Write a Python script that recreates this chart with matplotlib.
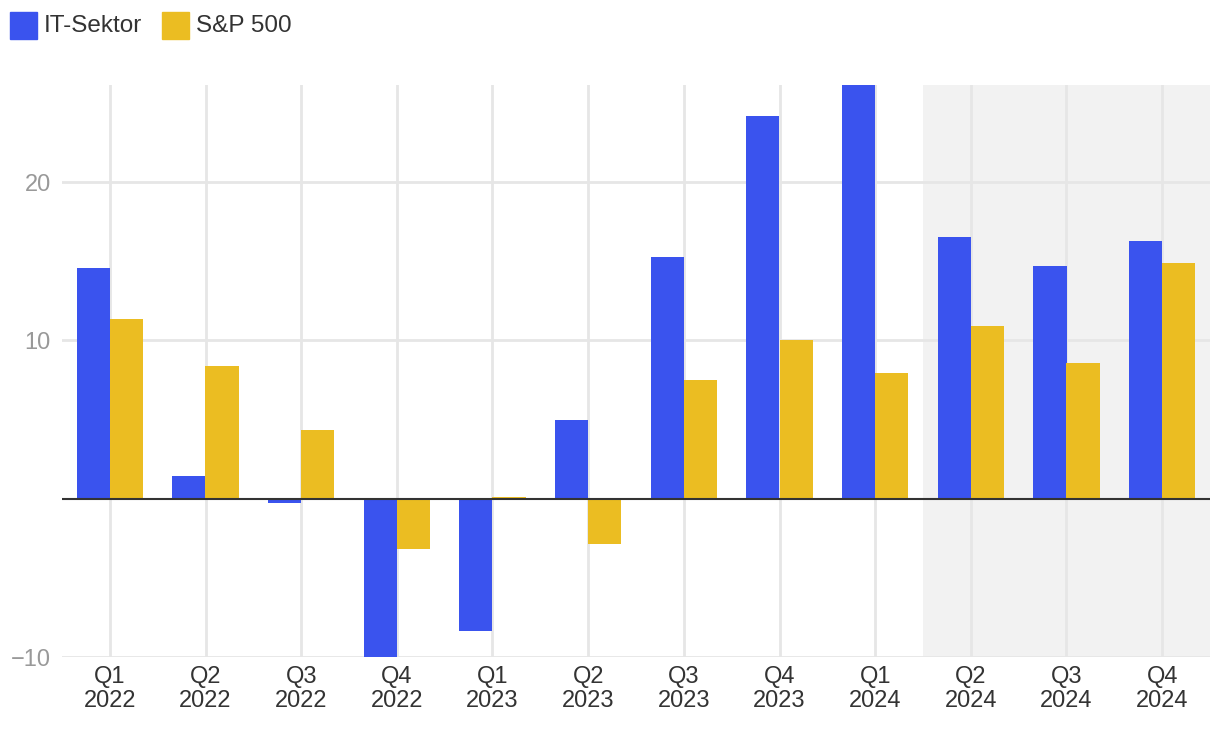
import matplotlib
matplotlib.use("Agg")
import matplotlib.pyplot as plt
import numpy as np

plt.rcParams['font.family'] = ['Liberation Sans', 'DejaVu Sans']

quarters = ["Q1", "Q2", "Q3", "Q4", "Q1", "Q2", "Q3", "Q4", "Q1", "Q2", "Q3", "Q4"]
years = ["2022", "2022", "2022", "2022", "2023", "2023", "2023", "2023", "2024", "2024", "2024", "2024"]
it_sektor = [14.6, 1.45, -0.25, -10.3, -8.35, 4.95, 15.25, 24.2, 27.0, 16.5, 14.7, 16.3]
sp500 = [11.35, 8.35, 4.35, -3.2, 0.08, -2.85, 7.5, 10.05, 7.95, 10.9, 8.55, 14.9]
series_names = ["IT-Sektor", "S&P 500"]
forecast_start = 9  # index of first shaded quarter

blue = "#3A53EE"
yellow = "#EBBD22"

fig = plt.figure(figsize=(12.2, 7.32), dpi=100)
ax = fig.add_axes([62/1220, (732-657)/732, (1210-62)/1220, (657-85)/732])

x = np.arange(len(quarters))
w = 0.345
ax.axvspan(forecast_start - 0.5, len(quarters) - 0.5, color="#F2F2F2", zorder=0, lw=0)
for xi in x:
    ax.axvline(xi, color="#E6E6E6", lw=2, zorder=1)
for yv in [-10, 10, 20]:
    ax.axhline(yv, color="#E6E6E6", lw=2, zorder=1)

ax.bar(x - w/2, it_sektor, width=w, color=blue, zorder=2, label=series_names[0])
ax.bar(x + w/2, sp500, width=w, color=yellow, zorder=2, label=series_names[1])
ax.axhline(0, color="#333333", lw=1.5, zorder=3)

ax.set_xlim(-0.5, len(quarters) - 0.5)
ax.set_ylim(-10, 26.13)
ax.set_yticks([-10, 10, 20])
ax.set_yticklabels(["\u221210", "10", "20"])
ax.set_xticks(x)
ax.set_xticklabels([f"{q}\n{y}" for q, y in zip(quarters, years)], linespacing=1.12)
ax.tick_params(axis='x', length=0, labelsize=17, colors="#333333", pad=6.5)
ax.tick_params(axis='y', length=0, labelsize=17, colors="#999999", pad=8)
for s in ax.spines.values():
    s.set_visible(False)

# legend
fig.patches.append(plt.Rectangle((10/1220, 1-39/732), 27/1220, 27/732, transform=fig.transFigure, color=blue))
fig.text(44/1220, 1-26/732, series_names[0], fontsize=17.5, color="#333333", va="center", ha="left")
fig.patches.append(plt.Rectangle((162/1220, 1-39/732), 27/1220, 27/732, transform=fig.transFigure, color=yellow))
fig.text(196/1220, 1-26/732, series_names[1], fontsize=17.5, color="#333333", va="center", ha="left")

fig.savefig("out.png", dpi=100)
